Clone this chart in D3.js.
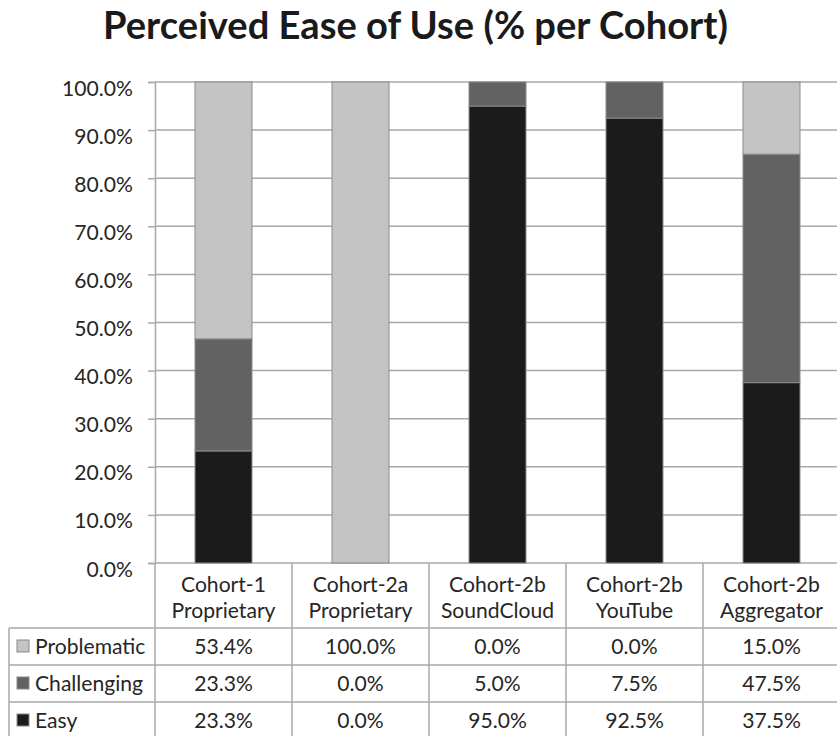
<!DOCTYPE html>
<html><head><meta charset="utf-8">
<script src="https://cdn.jsdelivr.net/npm/d3@7"></script>
<style>body{margin:0;background:#fff;overflow:hidden} svg{display:block}</style>
</head><body><svg id="c" width="837" height="736"></svg>
<script>
// ---- data ----
const title = "Perceived Ease of Use (% per Cohort)";
const categoryLine1 = ["Cohort-1", "Cohort-2a", "Cohort-2b", "Cohort-2b", "Cohort-2b"];
const categoryLine2 = ["Proprietary", "Proprietary", "SoundCloud", "YouTube", "Aggregator"];
const seriesNames = ["Problematic", "Challenging", "Easy"];
const problematic = [53.4, 100.0, 0.0, 0.0, 15.0];
const challenging = [23.3, 0.0, 5.0, 7.5, 47.5];
const easy = [23.3, 0.0, 95.0, 92.5, 37.5];
const yTickValues = [0, 10, 20, 30, 40, 50, 60, 70, 80, 90, 100];

// ---- layout ----
const svg = d3.select("#c");
const W = 837, H = 736;
const plotLeft = 155, plotTop = 82, plotBottom = 563, bandW = 137;
const tableLeft = 9, headerBottom = 628, rowH = 37;
const FONT = "Lato, 'Open Sans', sans-serif";
const textColor = "#262626";
const lineColor = "#a9a9a9";
const colors = { Problematic: "#c4c4c4", Challenging: "#626262", Easy: "#1b1b1b" };

const keys = categoryLine1.map((d, i) => i);
const x = d3.scaleBand().domain(keys).range([plotLeft, plotLeft + bandW * keys.length]).paddingInner(0).paddingOuter(0);
const y = d3.scaleLinear().domain([0, 100]).range([plotBottom, plotTop]);

// fit font size helper
function fitSize(str, targetW, weight) {
  const t = svg.append("text").attr("font-family", FONT).attr("font-size", 100).attr("font-weight", weight || "normal").text(str);
  const w = t.node().getComputedTextLength();
  t.remove();
  return 100 * targetW / w;
}
const bodySize = fitSize("Proprietary", 104);
const titleSize = fitSize(title, 625, "bold");

// title
svg.append("text").attr("x", 415.5).attr("y", 39).attr("text-anchor", "middle")
  .attr("font-family", FONT).attr("font-weight", "bold").attr("font-size", titleSize)
  .attr("fill", "#1a1a1a").text(title);

// gridlines + ticks
const yAxis = d3.axisLeft(y).tickValues(yTickValues).tickSize(7).tickFormat(d => d3.format(".1f")(d) + "%");
const gAxis = svg.append("g").attr("transform", `translate(${plotLeft},0)`).call(yAxis);
gAxis.select(".domain").attr("stroke", lineColor).attr("stroke-width", 1.5);
gAxis.selectAll(".tick line").attr("stroke", lineColor).attr("stroke-width", 1.5);
gAxis.selectAll(".tick text").attr("font-family", FONT).attr("font-size", bodySize)
  .attr("fill", textColor).attr("x", -22).attr("dy", "0.62em");

svg.append("g").selectAll("line").data(yTickValues).join("line")
  .attr("x1", plotLeft).attr("x2", W + 10)
  .attr("y1", d => y(d)).attr("y2", d => y(d))
  .attr("stroke", lineColor).attr("stroke-width", 1.5);

// stacked bars
const rows = keys.map(i => ({ i, Easy: easy[i], Challenging: challenging[i], Problematic: problematic[i] }));
const stack = d3.stack().keys(["Easy", "Challenging", "Problematic"])(rows);
const barW = bandW * 0.416;
svg.append("g").selectAll("g").data(stack).join("g")
  .attr("fill", d => colors[d.key])
  .selectAll("rect").data(d => d.filter(s => s[1] - s[0] > 0)).join("rect")
  .attr("x", d => x(d.data.i) + (bandW - barW) / 2)
  .attr("width", barW)
  .attr("y", d => y(d[1]))
  .attr("height", d => y(d[0]) - y(d[1]))
  .attr("stroke", "#8a8a8a").attr("stroke-width", 1);

// data table lines
const tl = svg.append("g").attr("stroke", lineColor).attr("stroke-width", 1.5);
// vertical lines for header and columns
keys.forEach(i => {
  tl.append("line").attr("x1", x(i)).attr("x2", x(i)).attr("y1", plotBottom).attr("y2", H + 5);
});
tl.append("line").attr("x1", x(keys.length - 1) + bandW).attr("x2", x(keys.length - 1) + bandW).attr("y1", plotBottom).attr("y2", H + 5);
tl.append("line").attr("x1", tableLeft).attr("x2", tableLeft).attr("y1", headerBottom).attr("y2", H + 5);
[0, 1, 2].forEach(r => {
  tl.append("line").attr("x1", tableLeft).attr("x2", W + 10)
    .attr("y1", headerBottom + r * rowH).attr("y2", headerBottom + r * rowH);
});

// header labels
const hdr = svg.append("g").attr("font-family", FONT).attr("font-size", bodySize).attr("fill", textColor).attr("text-anchor", "middle");
keys.forEach(i => {
  const cx = x(i) + bandW / 2;
  hdr.append("text").attr("x", cx).attr("y", 584).attr("dy", "0.36em").text(categoryLine1[i]);
  hdr.append("text").attr("x", cx).attr("y", 610).attr("dy", "0.36em").text(categoryLine2[i]);
});

// table rows
const seriesValues = { Problematic: problematic, Challenging: challenging, Easy: easy };
seriesNames.forEach((name, r) => {
  const cy = headerBottom + r * rowH + rowH / 2;
  svg.append("rect").attr("x", 17).attr("y", cy - 6.5).attr("width", 12).attr("height", 12)
    .attr("fill", colors[name]).attr("stroke", "#8a8a8a").attr("stroke-width", 1);
  svg.append("text").attr("x", 35).attr("y", cy).attr("dy", "0.36em")
    .attr("font-family", FONT).attr("font-size", bodySize).attr("fill", textColor).text(name);
  keys.forEach(i => {
    svg.append("text").attr("x", x(i) + bandW / 2).attr("y", cy).attr("dy", "0.36em")
      .attr("text-anchor", "middle").attr("font-family", FONT).attr("font-size", bodySize)
      .attr("fill", textColor).text(d3.format(".1f")(seriesValues[name][i]) + "%");
  });
});
</script>
</body></html>
